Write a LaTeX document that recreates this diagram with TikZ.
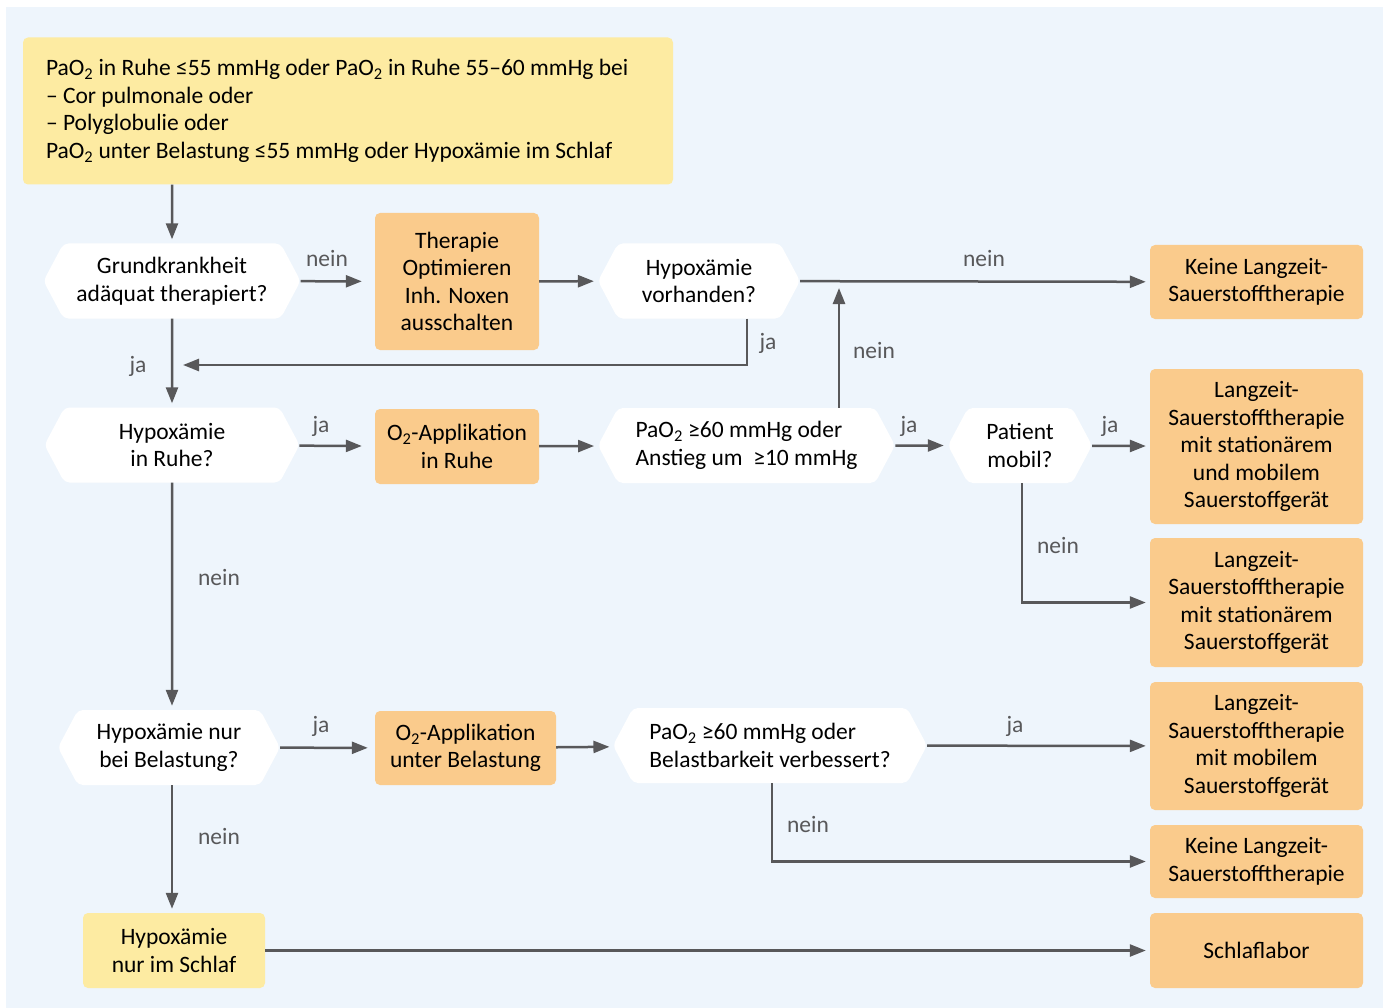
\documentclass[tikz,border=0pt]{standalone}
\usepackage{fontspec}
\setmainfont{Carlito}
\usepackage{tikz}
\usetikzlibrary{shapes.symbols}
\usetikzlibrary{calc}
\usetikzlibrary{positioning, arrows.meta}

\definecolor{bgblue}{HTML}{EEF5FC}
\definecolor{yellowfill}{HTML}{FDEBA2}
\definecolor{orangefill}{HTML}{FACB8C}
\definecolor{linegray}{HTML}{58585A}

\tikzset{
  hexa/.style={signal, signal to=west and east, signal pointer angle=124,
    fill=white, rounded corners=5pt, align=center, inner sep=0pt},
  yellowbox/.style={rectangle, rounded corners=5pt, fill=yellowfill, align=center, inner sep=0pt},
  orangebox/.style={rectangle, rounded corners=5pt, fill=orangefill, align=center, inner sep=0pt},
  arr/.style={draw=linegray, line width=2.5pt, shorten >=4pt,
    -{Triangle[length=16pt,width=12pt]}},
  lbl/.style={text=linegray}
}

\begin{document}
\begin{tikzpicture}[x=1pt, y=-1pt, font=\fontsize{23.5}{27.5}\selectfont]
  \useasboundingbox (0,0) rectangle (1383,1008);
  \fill[bgblue] (6,7) rectangle (1383,1008);

  % Startbedingung
  \node[yellowbox, align=flush left, text width=604pt, inner xsep=23pt, minimum width=650pt, minimum height=147pt] (start) at (348,111)
    {PaO\textsubscript{2} in Ruhe ≤55 mmHg oder PaO\textsubscript{2} in Ruhe 55–60 mmHg bei\\
     – Cor pulmonale oder\\
     – Polyglobulie oder\\
     PaO\textsubscript{2} unter Belastung ≤55 mmHg oder Hypoxämie im Schlaf};

  % erste Reihe
  \node[hexa, minimum width=257pt, minimum height=75pt] (grund) at (172,281)
    {Grundkrankheit\\adäquat therapiert?};
  \node[orangebox, minimum width=164pt, minimum height=137pt] (optim) at (457,281.5)
    {Therapie\\Optimieren\\Inh. Noxen\\ausschalten};
  \node[hexa, minimum width=202pt, minimum height=75pt] (vorh) at (699,281)
    {Hypoxämie\\vorhanden?};
  \node[orangebox, minimum width=213pt, minimum height=74pt] (keine1) at (1256.5,282)
    {Keine Langzeit-\\Sauerstofftherapie};

  % zweite Reihe
  \node[hexa, minimum width=255pt, minimum height=75pt] (ruhe) at (172,445)
    {Hypoxämie\\in Ruhe?};
  \node[orangebox, minimum width=164pt, minimum height=75pt] (appruhe) at (457,446.5)
    {O\textsubscript{2}-Applikation\\in Ruhe};
  \node[hexa, align=left, minimum width=297pt, minimum height=75pt] (anstieg) at (746.5,445.5)
    {PaO\textsubscript{2} ≥60 mmHg oder\\Anstieg um\ \ ≥10 mmHg};
  \node[hexa, minimum width=144pt, minimum height=75pt] (mobil) at (1020,445.5)
    {Patient\\mobil?};
  \node[orangebox, minimum width=213pt, minimum height=155pt] (statmob) at (1256.5,446.5)
    {Langzeit-\\Sauerstofftherapie\\mit stationärem\\und mobilem\\Sauerstoffgerät};
  \node[orangebox, minimum width=213pt, minimum height=129pt] (stat) at (1256.5,602.5)
    {Langzeit-\\Sauerstofftherapie\\mit stationärem\\Sauerstoffgerät};

  % dritte Reihe
  \node[hexa, minimum width=222pt, minimum height=75pt] (belast) at (169,747.5)
    {Hypoxämie nur\\bei Belastung?};
  \node[orangebox, minimum width=181pt, minimum height=74pt] (appbel) at (465.5,748)
    {O\textsubscript{2}-Applikation\\unter Belastung};
  \node[hexa, align=left, minimum width=314pt, minimum height=75pt] (verbess) at (770,745.5)
    {PaO\textsubscript{2} ≥60 mmHg oder\\Belastbarkeit verbessert?};
  \node[orangebox, minimum width=213pt, minimum height=128pt] (mob) at (1256.5,746)
    {Langzeit-\\Sauerstofftherapie\\mit mobilem\\Sauerstoffgerät};
  \node[orangebox, minimum width=213pt, minimum height=73pt] (keine2) at (1256.5,861.5)
    {Keine Langzeit-\\Sauerstofftherapie};

  % Schlaf
  \node[yellowbox, minimum width=182pt, minimum height=75pt] (schlaf) at (174,950.5)
    {Hypoxämie\\nur im Schlaf};
  \node[orangebox, minimum width=213pt, minimum height=75pt] (labor) at (1256.5,950.5)
    {Schlaflabor};

  % Hilfspunkte
  \coordinate (merge) at (173,365);
  \coordinate (nup) at (839,281);

  % Verbindungen
  \draw[arr] (start.south -| grund.north) -- (grund);
  \draw[arr, shorten >=13pt] (grund) -- (optim);
  \draw[arr] (optim) -- (vorh);
  \draw[arr] (vorh) -- (keine1);
  \draw[arr, shorten >=10pt] ([xshift=48pt]vorh.south) |- (merge);
  \draw[arr] (grund) -- (ruhe);
  \draw[arr, shorten >=13pt] (ruhe) -- (appruhe);
  \draw[arr] (appruhe) -- (anstieg);
  \draw[arr, shorten >=7pt] (nup |- anstieg.north) -- (nup);
  \draw[arr] (anstieg) -- (mobil);
  \draw[arr] (mobil) -- (statmob);
  \draw[arr] ([xshift=2pt]mobil.south) |- (stat.west);
  \draw[arr] (ruhe) -- (ruhe |- belast.north);
  \draw[arr, shorten >=7pt] (belast) -- (appbel);
  \draw[arr] (appbel) -- (verbess);
  \draw[arr] (verbess) -- (mob);
  \draw[arr] ([xshift=2pt]verbess.south) |- (keine2.west);
  \draw[arr] (belast.south -| ruhe) -- (schlaf.north -| ruhe);
  \draw[arr] (schlaf.east |- labor.west) -- (labor);

  % Beschriftungen
  \node[lbl] (n1) at (327,258) {nein};
  \node[lbl] (n2) at (984,258) {nein};
  \node[lbl] (j1) at (768,343) {ja};
  \node[lbl] (j2) at (138,366) {ja};
  \node[lbl] (n3) at (874,350) {nein};
  \node[lbl] (j3) at (321,426) {ja};
  \node[lbl] (j4) at (909,426) {ja};
  \node[lbl] (j5) at (1110,426) {ja};
  \node[lbl] (n4) at (1058,545) {nein};
  \node[lbl] (n5) at (219,577) {nein};
  \node[lbl] (j6) at (321,726) {ja};
  \node[lbl] (j7) at (1015,726) {ja};
  \node[lbl] (n6) at (808,824) {nein};
  \node[lbl] (n7) at (219,836) {nein};
\end{tikzpicture}
\end{document}
